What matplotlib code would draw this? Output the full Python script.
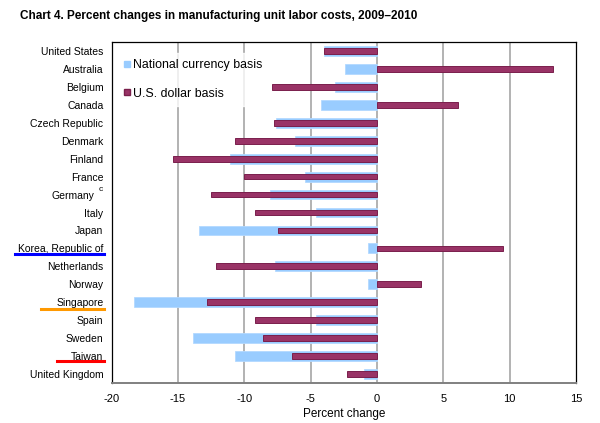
import matplotlib
matplotlib.use("Agg")
import matplotlib.pyplot as plt
from matplotlib.lines import Line2D
from matplotlib.transforms import ScaledTranslation
import numpy as np

plt.rcParams['font.family'] = ['Liberation Sans', 'DejaVu Sans']
plt.rcParams['axes.unicode_minus'] = False

countries = ["United States", "Australia", "Belgium", "Canada", "Czech Republic",
             "Denmark", "Finland", "France", "Germany", "Italy", "Japan",
             "Korea, Republic of", "Netherlands", "Norway", "Singapore", "Spain",
             "Sweden", "Taiwan", "United Kingdom"]
national = [-4.0, -2.4, -3.2, -4.2, -7.6, -6.2, -11.1, -5.4, -8.1, -4.6, -13.4,
            -0.7, -7.7, -0.7, -18.3, -4.6, -13.9, -10.7, -1.0]
usd = [-4.0, 13.3, -7.9, 6.1, -7.8, -10.7, -15.4, -10.0, -12.5, -9.2, -7.5,
       9.5, -12.1, 3.3, -12.8, -9.2, -8.6, -6.4, -2.3]
xticks = [-20, -15, -10, -5, 0, 5, 10, 15]

W, H = 600, 423
fig = plt.figure(figsize=(6.0, 4.23), dpi=100)
ax = fig.add_axes([111.7 / W, 1 - 383 / H, (576 - 111.7) / W, (383 - 42) / H])

y = np.arange(len(countries))
ax.barh(y, national, height=0.55, color='#99CCFF', edgecolor='#B3D9FF',
        linewidth=0.6, zorder=3, label='National currency basis')
ax.barh(y, usd, height=0.32, color='#993366', edgecolor='#7A1F4C',
        linewidth=0.7, zorder=4, label='U.S. dollar basis')

ax.set_xlim(-20, 15)
ax.set_ylim(len(countries) - 0.5, -0.5)
ax.set_xticks(xticks)
ax.set_xticklabels([str(t) for t in xticks], fontsize=8)
ax.set_yticks(y)
ax.set_yticklabels(countries, fontsize=7.5)
ax.tick_params(axis='both', length=0)
ax.tick_params(axis='y', pad=6)
ax.tick_params(axis='x', pad=8)
ax.set_xlabel('Percent change', fontsize=8.5, labelpad=3)

# shift Germany label left to make room for its superscript
gi = countries.index("Germany")
glab = ax.get_yticklabels()[gi]
glab.set_transform(glab.get_transform() + ScaledTranslation(-9 / 100, 0, fig.dpi_scale_trans))
ax.text(-0.024, gi - 0.3, 'c', transform=ax.get_yaxis_transform(),
        fontsize=6, ha='center', va='center')

for t in xticks[1:-1]:
    ax.axvline(t, color='#A6A6A6', linewidth=1.2, zorder=1)

for s in ['top', 'right', 'left']:
    ax.spines[s].set_color('black')
    ax.spines[s].set_linewidth(0.9)
ax.spines['bottom'].set_color('#808080')
ax.spines['bottom'].set_linewidth(1.4)

handles = [Line2D([], [], marker='s', linestyle='none', markersize=5,
                  markerfacecolor='#99CCFF', markeredgecolor='#99CCFF'),
           Line2D([], [], marker='s', linestyle='none', markersize=5,
                  markerfacecolor='#993366', markeredgecolor='#7A1F4C')]
leg = ax.legend(handles, ['National currency basis', 'U.S. dollar basis'],
                loc='upper left', bbox_to_anchor=(0.0, 0.985), frameon=True,
                fontsize=8.9, handlelength=0.5, handletextpad=0.25,
                labelspacing=1.3, borderpad=0.5, fancybox=False)
leg.get_frame().set_facecolor('white')
leg.get_frame().set_edgecolor('white')
leg.set_zorder(2)

fig.text(20 / W, 1 - 16 / H, 'Chart 4. Percent changes in manufacturing unit labor costs, 2009\u20132010',
         fontsize=8.45, fontweight='bold', ha='left', va='center')

# colored underline annotations
for x0, x1, yy, col in [(15, 104, 254, '#0000FF'), (41, 104, 309, '#FF9900'),
                        (57, 104, 361, '#FF0000')]:
    fig.add_artist(Line2D([x0 / W, x1 / W], [1 - yy / H, 1 - yy / H],
                          color=col, linewidth=2.2, transform=fig.transFigure))

fig.savefig('out.png', dpi=100)
